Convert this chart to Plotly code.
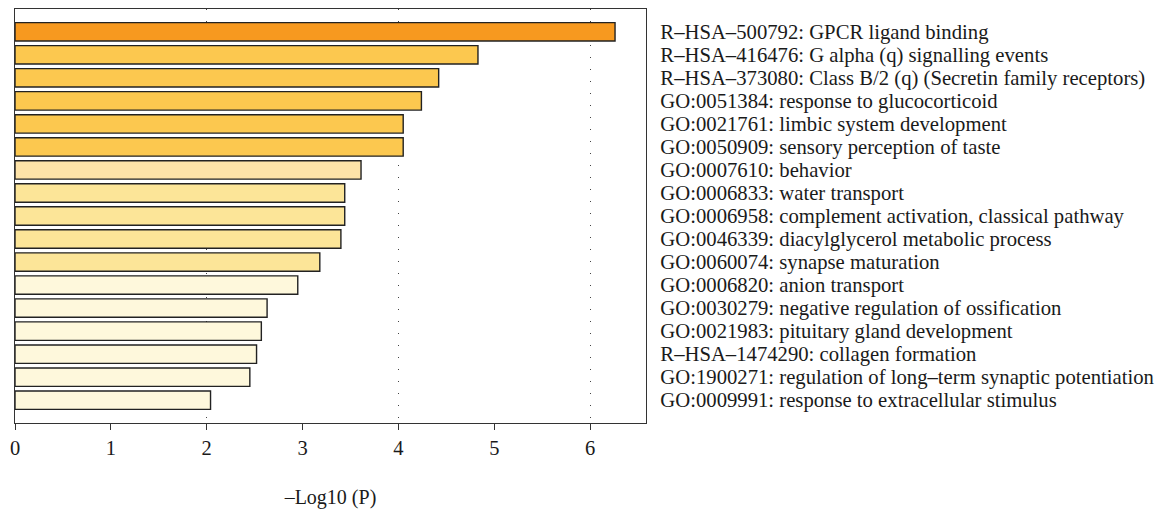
import plotly.graph_objects as go

terms = [
    "R–HSA–500792: GPCR ligand binding",
    "R–HSA–416476: G alpha (q) signalling events",
    "R–HSA–373080: Class B/2 (q) (Secretin family receptors)",
    "GO:0051384: response to glucocorticoid",
    "GO:0021761: limbic system development",
    "GO:0050909: sensory perception of taste",
    "GO:0007610: behavior",
    "GO:0006833: water transport",
    "GO:0006958: complement activation, classical pathway",
    "GO:0046339: diacylglycerol metabolic process",
    "GO:0060074: synapse maturation",
    "GO:0006820: anion transport",
    "GO:0030279: negative regulation of ossification",
    "GO:0021983: pituitary gland development",
    "R–HSA–1474290: collagen formation",
    "GO:1900271: regulation of long–term synaptic potentiation",
    "GO:0009991: response to extracellular stimulus",
]
neg_log10_p = [6.26, 4.83, 4.42, 4.24, 4.05, 4.05, 3.61, 3.44, 3.44, 3.40,
               3.18, 2.95, 2.63, 2.57, 2.52, 2.45, 2.04]
bar_colors = ["#F7991F", "#FCC84F", "#FCC84F", "#FCC84F", "#FCC84F", "#FCC84F",
              "#FEE3A8", "#FCE598", "#FCE598", "#FCE598", "#FCE598",
              "#FEF8DC", "#FEF8DC", "#FEF8DC", "#FEF8DC", "#FEF8DC", "#FEF8DC"]
x_ticks = [0, 1, 2, 3, 4, 5, 6]
x_title = "–Log10 (P)"

FONT = "Liberation Serif"
XMAX = 6.583

fig = go.Figure()
fig.add_trace(go.Bar(
    x=neg_log10_p, y=terms, orientation="h",
    width=0.8,
    marker=dict(color=bar_colors, line=dict(color="#222222", width=1.4)),
    showlegend=False, hoverinfo="x+y",
))

fig.update_layout(
    width=1175, height=513,
    margin=dict(l=15, r=529, t=8, b=88),
    paper_bgcolor="white", plot_bgcolor="white",
    font=dict(family=FONT, size=20, color="#1a1a1a"),
    xaxis=dict(
        range=[0, XMAX], tickvals=x_ticks, ticktext=[str(v) for v in x_ticks],
        showgrid=False, zeroline=False,
        showline=True, linecolor="#333333", linewidth=1.4, mirror=True,
        ticks="outside", ticklen=6, tickcolor="#333333", tickwidth=1.2,
        tickfont=dict(family=FONT, size=20.5),
        title=dict(text=x_title, font=dict(family=FONT, size=20), standoff=32),
    ),
    xaxis2=dict(
        overlaying="x", range=[0, XMAX], tick0=0, dtick=2,
        showgrid=True, gridcolor="#444444", gridwidth=1, griddash="1px,11px",
        showticklabels=False, ticks="", showline=False, zeroline=False,
    ),
    yaxis=dict(
        type="category", range=[16.99, -0.99], side="right",
        tickmode="array", tickvals=terms, ticktext=terms,
        showgrid=False, zeroline=False,
        showline=True, linecolor="#333333", linewidth=1.4, mirror=True,
        ticks="", ticklabelstandoff=9,
        tickfont=dict(family=FONT, size=20.7, color="#1a1a1a"),
    ),
)
# invisible helper trace so the grid axis is laid out
fig.add_trace(go.Scatter(x=[0], y=[terms[0]], xaxis="x2", mode="markers",
                         marker=dict(opacity=0), showlegend=False, hoverinfo="skip"))

fig.write_html("out.html")
